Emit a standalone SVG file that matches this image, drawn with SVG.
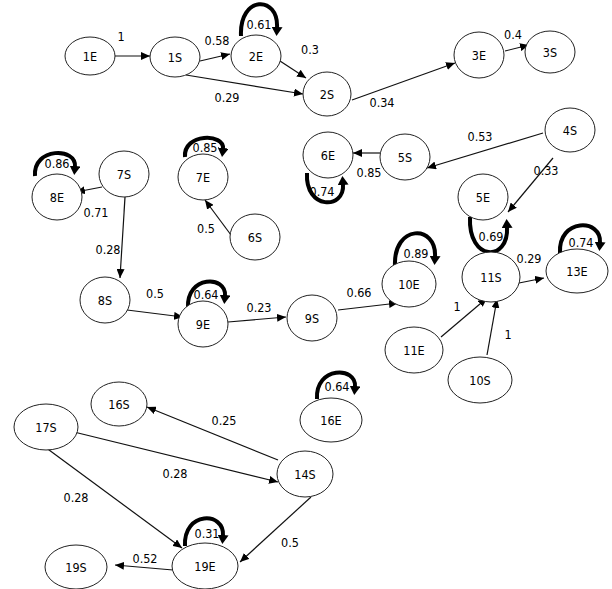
<svg xmlns="http://www.w3.org/2000/svg" width="612" height="589" viewBox="0 0 612 589">
<defs>
<marker id="arr" markerUnits="userSpaceOnUse" markerWidth="9" markerHeight="8" viewBox="0 0 9 8" refX="9" refY="4" orient="auto"><path d="M0,0 L9,4 L0,8 z" fill="#000"/></marker>
<marker id="loop" markerUnits="userSpaceOnUse" markerWidth="9" markerHeight="11" viewBox="0 0 9 11" refX="1" refY="5.5" orient="auto"><path d="M0,0 L9,5.5 L0,11 z" fill="#000"/></marker>
<style>
text{font-family:'Liberation Sans Narrow','DejaVu Sans Condensed','Liberation Sans',sans-serif;font-size:12.5px;fill:#000;text-anchor:middle;dominant-baseline:central}
ellipse{fill:#fff;stroke:#222;stroke-width:1}
.e{fill:none;stroke:#111;stroke-width:1.2;marker-end:url(#arr)}
.l{fill:none;stroke:#000;stroke-width:4;marker-end:url(#loop)}
</style>
</defs>
<rect width="612" height="589" fill="#fff"/>
<g id="connectors">
<line class="e" x1="115" y1="56" x2="150" y2="56"/>
<line class="e" x1="200" y1="61" x2="230" y2="54"/>
<line class="e" x1="186" y1="75" x2="303" y2="94"/>
<line class="e" x1="280" y1="61" x2="306" y2="78"/>
<line class="e" x1="352" y1="100" x2="455" y2="63"/>
<line class="e" x1="505" y1="51" x2="529" y2="45"/>
<line class="e" x1="543" y1="133" x2="427" y2="168"/>
<line class="e" x1="553" y1="158" x2="508" y2="212"/>
<line class="e" x1="382" y1="153" x2="353" y2="153"/>
<line class="e" x1="102" y1="187" x2="76" y2="192"/>
<line class="e" x1="125" y1="197" x2="120" y2="278"/>
<line class="e" x1="231" y1="235" x2="205" y2="200"/>
<line class="e" x1="127" y1="310" x2="183" y2="317"/>
<line class="e" x1="228" y1="322" x2="286" y2="317"/>
<line class="e" x1="338" y1="310" x2="398" y2="303"/>
<line class="e" x1="441" y1="337" x2="487" y2="298"/>
<line class="e" x1="487" y1="355" x2="497" y2="299"/>
<line class="e" x1="519" y1="283" x2="544" y2="278"/>
<line class="e" x1="278" y1="460" x2="147" y2="407"/>
<line class="e" x1="74" y1="432" x2="278" y2="482"/>
<line class="e" x1="45" y1="447" x2="182" y2="548"/>
<line class="e" x1="311" y1="497" x2="240" y2="562"/>
<line class="e" x1="173" y1="570" x2="115" y2="565"/>
<path class="l" d="M241,36 C239,-5 279,-5 277,28"/>
<path class="l" d="M185,157 C183,133 225,133 223,149"/>
<path class="l" d="M35,176 C33,147 77,147 75,167"/>
<path class="l" d="M188,308 C186,275 227,275 225,296"/>
<path class="l" d="M395,266 C393,224 437,224 435,257"/>
<path class="l" d="M560,253 C558,218 602,218 600,243"/>
<path class="l" d="M317,399 C315,366 357,366 355,387"/>
<path class="l" d="M185,546 C183,511 225,511 223,536"/>
<path class="l" d="M307,173 C305,210 345,210 343,184"/>
<path class="l" d="M470,217 C468,262 509,262 507,227"/>
</g>
<g id="edge-labels">
<text x="121" y="36">1</text>
<text x="217" y="40">0.58</text>
<text x="227" y="97">0.29</text>
<text x="310" y="49">0.3</text>
<text x="382" y="102">0.34</text>
<text x="513" y="34">0.4</text>
<text x="480" y="136">0.53</text>
<text x="546" y="170">0.33</text>
<text x="369" y="172">0.85</text>
<text x="96" y="212">0.71</text>
<text x="108" y="249">0.28</text>
<text x="206" y="228">0.5</text>
<text x="155" y="293">0.5</text>
<text x="259" y="307">0.23</text>
<text x="359" y="292">0.66</text>
<text x="457" y="306">1</text>
<text x="508" y="334">1</text>
<text x="529" y="258">0.29</text>
<text x="224" y="420">0.25</text>
<text x="175" y="473">0.28</text>
<text x="76" y="497">0.28</text>
<text x="290" y="542">0.5</text>
<text x="145" y="558">0.52</text>
<text x="259" y="24">0.61</text>
<text x="205" y="147">0.85</text>
<text x="57" y="163">0.86</text>
<text x="206" y="294">0.64</text>
<text x="416" y="253">0.89</text>
<text x="581" y="242">0.74</text>
<text x="337" y="386">0.64</text>
<text x="207" y="533">0.31</text>
<text x="322" y="191">0.74</text>
<text x="491" y="236">0.69</text>
</g>
<g id="n1E"><ellipse cx="90" cy="56" rx="25" ry="19"/><text x="90" y="56">1E</text></g>
<g id="n1S"><ellipse cx="175" cy="57" rx="25" ry="20"/><text x="175" y="57">1S</text></g>
<g id="n2E"><ellipse cx="256" cy="56" rx="25" ry="21"/><text x="256" y="56">2E</text></g>
<g id="n2S"><ellipse cx="327" cy="94" rx="24" ry="22"/><text x="327" y="94">2S</text></g>
<g id="n3E"><ellipse cx="479" cy="55" rx="25" ry="23"/><text x="479" y="55">3E</text></g>
<g id="n3S"><ellipse cx="550" cy="52" rx="25" ry="21"/><text x="550" y="52">3S</text></g>
<g id="n4S"><ellipse cx="570" cy="130" rx="25" ry="22"/><text x="570" y="130">4S</text></g>
<g id="n5S"><ellipse cx="405" cy="157" rx="25" ry="23"/><text x="405" y="157">5S</text></g>
<g id="n6E"><ellipse cx="328" cy="155" rx="25" ry="23"/><text x="328" y="155">6E</text></g>
<g id="n5E"><ellipse cx="483" cy="197" rx="25" ry="23"/><text x="483" y="197">5E</text></g>
<g id="n7S"><ellipse cx="124" cy="174" rx="25" ry="23"/><text x="124" y="174">7S</text></g>
<g id="n8E"><ellipse cx="57" cy="197" rx="25" ry="23"/><text x="57" y="197">8E</text></g>
<g id="n7E"><ellipse cx="203" cy="177" rx="25" ry="23"/><text x="203" y="177">7E</text></g>
<g id="n6S"><ellipse cx="255" cy="237" rx="25" ry="23"/><text x="255" y="237">6S</text></g>
<g id="n8S"><ellipse cx="105" cy="300" rx="25" ry="23"/><text x="105" y="300">8S</text></g>
<g id="n9E"><ellipse cx="203" cy="324" rx="25" ry="23"/><text x="203" y="324">9E</text></g>
<g id="n9S"><ellipse cx="312" cy="318" rx="25" ry="23"/><text x="312" y="318">9S</text></g>
<g id="n10E"><ellipse cx="409" cy="284" rx="27" ry="23"/><text x="409" y="284">10E</text></g>
<g id="n11S"><ellipse cx="491" cy="277" rx="29" ry="25"/><text x="491" y="277">11S</text></g>
<g id="n13E"><ellipse cx="577" cy="271" rx="31" ry="22"/><text x="577" y="271">13E</text></g>
<g id="n11E"><ellipse cx="414" cy="350" rx="29" ry="23"/><text x="414" y="350">11E</text></g>
<g id="n10S"><ellipse cx="480" cy="380" rx="32" ry="23"/><text x="480" y="380">10S</text></g>
<g id="n16S"><ellipse cx="119" cy="404" rx="28" ry="22"/><text x="119" y="404">16S</text></g>
<g id="n17S"><ellipse cx="46" cy="427" rx="32" ry="23"/><text x="46" y="427">17S</text></g>
<g id="n16E"><ellipse cx="331" cy="420" rx="31" ry="22"/><text x="331" y="420">16E</text></g>
<g id="n14S"><ellipse cx="305" cy="474" rx="28" ry="23"/><text x="305" y="474">14S</text></g>
<g id="n19E"><ellipse cx="205" cy="566" rx="33" ry="23"/><text x="205" y="566">19E</text></g>
<g id="n19S"><ellipse cx="76" cy="567" rx="31" ry="22"/><text x="76" y="567">19S</text></g>
</svg>
